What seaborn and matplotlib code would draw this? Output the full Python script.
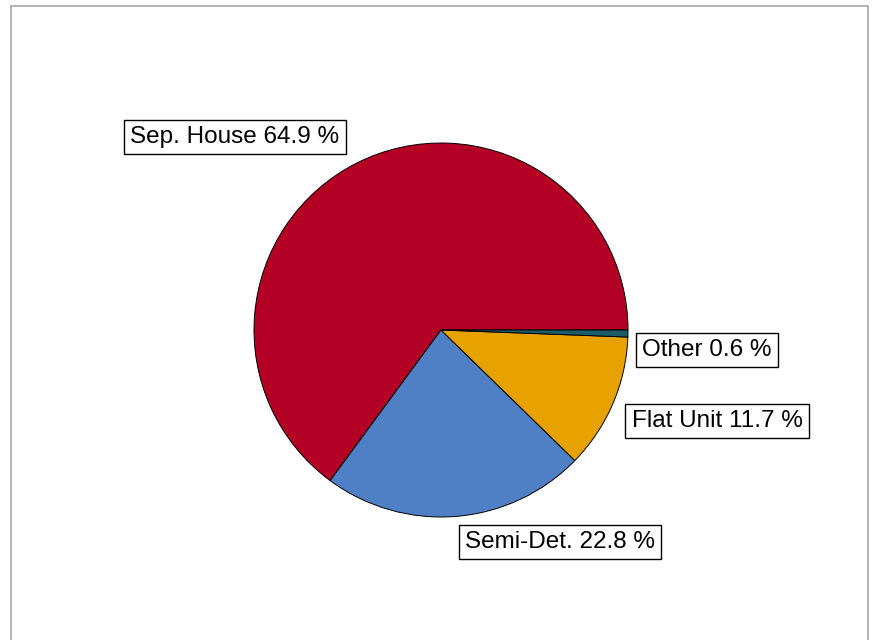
import matplotlib
matplotlib.use("Agg")
import matplotlib.pyplot as plt
from matplotlib.patches import Rectangle
import seaborn as sns

# dwelling type shares (%)
categories = ["Sep. House", "Semi-Det.", "Flat Unit", "Other"]
shares = [64.9, 22.8, 11.7, 0.6]
slice_colours = ["#B30024", "#4F80C6", "#E8A200", "#1B5C6A"]

# label box centres in pixel coords (x from left, y from top)
label_pos = [(235, 137), (560, 542), (717, 421), (707, 350)]

sns.set_style("white")
plt.rcParams['font.family'] = ['Liberation Sans', 'DejaVu Sans']

W, H = 875, 640
fig = plt.figure(figsize=(W / 100, H / 100), dpi=100)
ax = fig.add_axes([0, 0, 1, 1])

# gray frame round the plot area
fig.patches.append(Rectangle((11 / W, -0.1), (868 - 11) / W, (H - 6) / H + 0.1,
                             transform=fig.transFigure, fill=False,
                             edgecolor="#A8A8A8", linewidth=1.2))

wedges, _ = ax.pie(shares, colors=slice_colours, startangle=0, counterclock=True,
                   center=(441, H - 330), radius=187, frame=True,
                   wedgeprops={'edgecolor': 'black', 'linewidth': 0.7})
ax.set_xlim(0, W)
ax.set_ylim(0, H)
ax.axis("off")

for name, val, (x, y) in zip(categories, shares, label_pos):
    ax.text(x, H - y, f"{name} {val} %", fontsize=17.5, color="black",
            ha="center", va="center",
            bbox=dict(boxstyle="square,pad=0.26", facecolor="white",
                      edgecolor="black", linewidth=1))

fig.savefig("out.png", dpi=100)
